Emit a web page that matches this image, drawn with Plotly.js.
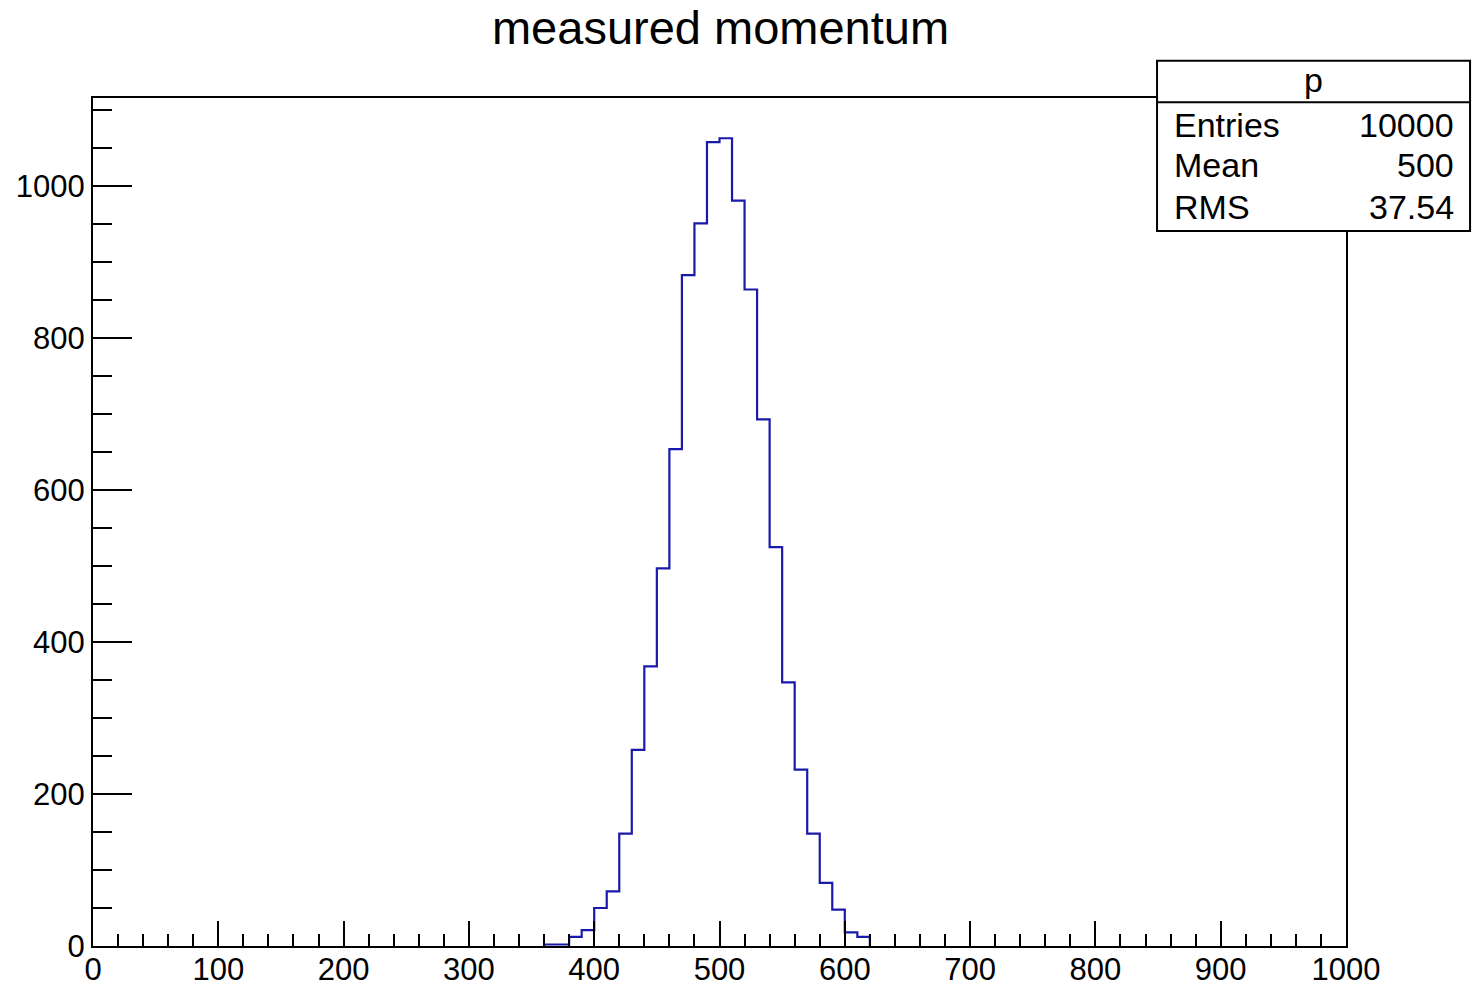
<!DOCTYPE html>
<html>
<head>
<meta charset="utf-8">
<script src="https://cdn.plot.ly/plotly-3.0.1.min.js"></script>
<style>
  html, body { margin: 0; padding: 0; background: #fff; }
  #hist { width: 1472px; height: 988px; }
</style>
</head>
<body>
<div id="hist"></div>
<script>
// Histogram data: lower bin edges (width 10) and counts
var bin_low = [360, 370, 380, 390, 400, 410, 420, 430, 440, 450, 460, 470, 480,
               490, 500, 510, 520, 530, 540, 550, 560, 570, 580, 590, 600, 610];
var counts  = [2, 2, 12, 21, 50, 72, 148, 258, 368, 497, 654, 883, 951,
               1058, 1063, 981, 864, 693, 525, 347, 232, 148, 83, 48, 18, 12];
var bin_width = 10;

// Stats box
var stat_name = "p";
var stat_labels = ["Entries", "Mean", "RMS"];
var stat_values = ["10000", "500", "37.54"];

var font_family = "Liberation Sans, Arial, Helvetica, sans-serif";

// Build the step outline the way ROOT draws it
var step_x = [bin_low[0]];
var step_y = [0];
for (var i = 0; i < bin_low.length; i++) {
  step_x.push(bin_low[i]);
  step_y.push(counts[i]);
}
step_x.push(bin_low[bin_low.length - 1] + bin_width);
step_y.push(0);

var trace = {
  x: step_x,
  y: step_y,
  type: "scatter",
  mode: "lines",
  line: { shape: "hv", color: "#1a1aaa", width: 2.2 },
  hoverinfo: "skip"
};

// Stats box position (paper coords)
var bx0 = 0.8492, bx1 = 1.0990, by0 = 0.8432, by1 = 1.044, bsep = 0.9949;
var row_y = [0.968, 0.921, 0.8715];

var annotations = [{
  text: stat_name, xref: "paper", yref: "paper", x: (bx0 + bx1) / 2, y: 1.0212,
  xanchor: "center", yanchor: "middle", showarrow: false,
  font: { family: font_family, size: 34, color: "#000" }
}];
stat_labels.forEach(function (lab, k) {
  annotations.push({
    text: lab, xref: "paper", yref: "paper", x: 0.8615, y: row_y[k],
    xanchor: "left", yanchor: "middle", showarrow: false,
    font: { family: font_family, size: 34, color: "#000" }
  });
  annotations.push({
    text: stat_values[k], xref: "paper", yref: "paper", x: 1.0875, y: row_y[k],
    xanchor: "right", yanchor: "middle", showarrow: false,
    font: { family: font_family, size: 34, color: "#000" }
  });
});

var layout = {
  width: 1472,
  height: 988,
  margin: { l: 93, r: 126, t: 98, b: 42, pad: 0 },
  paper_bgcolor: "#fff",
  plot_bgcolor: "#fff",
  showlegend: false,
  title: {
    text: "measured momentum",
    xref: "container", yref: "container",
    x: 0.4895, y: 0.972, xanchor: "center", yanchor: "middle",
    font: { family: font_family, size: 47, color: "#000" }
  },
  xaxis: {
    range: [0, 1000],
    dtick: 100,
    tick0: 0,
    ticks: "inside",
    ticklen: 25,
    tickwidth: 2,
    tickcolor: "#000",
    ticklabelstandoff: -5,
    minor: { dtick: 20, ticks: "inside", ticklen: 12, tickwidth: 2, tickcolor: "#000", showgrid: false },
    showline: true,
    linecolor: "#000",
    linewidth: 2,
    mirror: true,
    showgrid: false,
    zeroline: false,
    tickfont: { family: font_family, size: 31, color: "#000" }
  },
  yaxis: {
    range: [0, 1116],
    dtick: 200,
    tick0: 0,
    ticks: "inside",
    ticklen: 39,
    tickwidth: 2,
    tickcolor: "#000",
    minor: { dtick: 50, ticks: "inside", ticklen: 19, tickwidth: 2, tickcolor: "#000", showgrid: false },
    showline: true,
    linecolor: "#000",
    linewidth: 2,
    mirror: true,
    showgrid: false,
    zeroline: false,
    tickfont: { family: font_family, size: 31, color: "#000" }
  },
  shapes: [
    { type: "rect", xref: "paper", yref: "paper", x0: bx0, x1: bx1, y0: by0, y1: by1,
      fillcolor: "#fff", line: { color: "#000", width: 2 }, layer: "above" },
    { type: "line", xref: "paper", yref: "paper", x0: bx0, x1: bx1, y0: bsep, y1: bsep,
      line: { color: "#000", width: 2 }, layer: "above" }
  ],
  annotations: annotations
};

Plotly.newPlot("hist", [trace], layout, { staticPlot: true, displayModeBar: false });
</script>
</body>
</html>
